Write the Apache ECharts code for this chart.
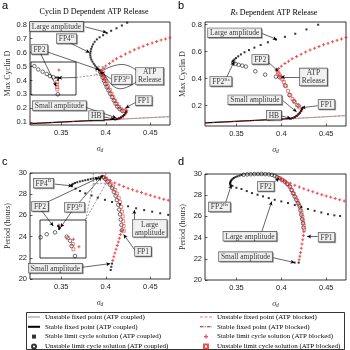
<!DOCTYPE html>
<html>
<head>
<meta charset="utf-8">
<title>ATP release bifurcation diagrams</title>
<script src="https://cdn.jsdelivr.net/npm/echarts@6.0.0/dist/echarts.min.js"></script>
<style>
  html, body { margin: 0; padding: 0; background: #fff; }
  #chart { width: 350px; height: 350px; }
</style>
</head>
<body>
<div id="chart"></div>
<script>
// Bifurcation diagrams: max cyclin D (a, b) and period (c, d) against sigma_d

// ---- ticks ----
const xTicks = [0.35, 0.4, 0.45];
const yTicksA = [0.1, 0.2, 0.3, 0.4, 0.5, 0.6, 0.7, 0.8];
const yTicksB = [0.2, 0.4, 0.6, 0.8];

// ---- panel a: Cyclin D dependent ATP release ----
const aFixLow = [[0.315, 0.09], [0.41, 0.12]];
const aFixHigh = [[0.41, 0.12], [0.472, 0.14]];
const aStableLarge = [[0.424, 0.815], [0.418, 0.795], [0.412, 0.775], [0.406, 0.757], [0.401, 0.74], [0.397, 0.725],
  [0.393, 0.71], [0.39, 0.695], [0.3875, 0.678], [0.3858, 0.66], [0.3845, 0.643], [0.3836, 0.627], [0.383, 0.61],
  [0.3826, 0.595], [0.3826, 0.58], [0.383, 0.565], [0.3838, 0.55], [0.385, 0.535], [0.3865, 0.52], [0.388, 0.507],
  [0.3897, 0.495], [0.391, 0.485], [0.3922, 0.477], [0.393, 0.472]];
const aUnstable = [[0.3935, 0.462], [0.395, 0.442], [0.3965, 0.42], [0.398, 0.398], [0.3995, 0.375], [0.401, 0.352],
  [0.403, 0.328], [0.405, 0.304], [0.407, 0.28], [0.409, 0.256], [0.411, 0.233], [0.413, 0.212], [0.4155, 0.195], [0.4185, 0.182]];
const aStableSmall = [[0.41, 0.12], [0.4125, 0.123], [0.415, 0.128], [0.417, 0.134], [0.419, 0.142], [0.4205, 0.152],
  [0.422, 0.164], [0.423, 0.177]];
const aRedStable = [[0.395, 0.47], [0.397, 0.487], [0.4, 0.503], [0.404, 0.522], [0.408, 0.54], [0.412, 0.556],
  [0.417, 0.573], [0.422, 0.59], [0.427, 0.605], [0.432, 0.62], [0.437, 0.633], [0.442, 0.646], [0.447, 0.658],
  [0.452, 0.67], [0.457, 0.68], [0.462, 0.69], [0.467, 0.698], [0.472, 0.706]];
const aRedUnstable = [[0.3945, 0.468], [0.3952, 0.456], [0.396, 0.446], [0.3968, 0.436], [0.3977, 0.424], [0.3987, 0.411],
  [0.3998, 0.396], [0.401, 0.378], [0.4025, 0.358], [0.4045, 0.332], [0.4065, 0.305], [0.4085, 0.28], [0.4105, 0.255],
  [0.4125, 0.232], [0.4148, 0.21], [0.4175, 0.192], [0.42, 0.18]];
const aRedSmall = [[0.4115, 0.121], [0.414, 0.125], [0.4162, 0.131], [0.418, 0.138], [0.42, 0.147], [0.4215, 0.158],
  [0.4228, 0.17], [0.4235, 0.183], [0.4225, 0.196]];

// inset of panel a (zoom around FP2 / FP3)
const insetACircles = [[0.3815, 0.49], [0.3832, 0.482], [0.3852, 0.4765], [0.387, 0.471], [0.3884, 0.466], [0.3899, 0.463], [0.3919, 0.4217]];
const insetABlack = [[0.3911, 0.4624], [0.392, 0.4624], [0.3924, 0.4612], [0.392, 0.457]];
const insetARedSq = [[0.3916, 0.4515], [0.3914, 0.4455], [0.3916, 0.4394], [0.3917, 0.4333]];
const insetARedPlus = [[0.3924, 0.4806]];

// ---- panel b: Rs dependent ATP release ----
const bFixLow = [[0.315, 0.073], [0.41, 0.104]];
const bFixHigh = [[0.41, 0.104], [0.472, 0.127]];
const bStableLarge = [[0.441, 0.8], [0.428, 0.765], [0.4155, 0.733], [0.404, 0.71], [0.394, 0.69], [0.385, 0.67],
  [0.377, 0.65], [0.37, 0.63], [0.364, 0.612], [0.359, 0.596], [0.355, 0.58], [0.352, 0.566], [0.3495, 0.553],
  [0.3478, 0.543], [0.3465, 0.534], [0.3458, 0.527]];
const bUnstable = [[0.3465, 0.52], [0.349, 0.51], [0.3525, 0.503], [0.3565, 0.497], [0.3605, 0.49], [0.371, 0.455],
  [0.382, 0.43], [0.394, 0.415], [0.398, 0.411], [0.4043, 0.35], [0.409, 0.28], [0.414, 0.235], [0.419, 0.2]];
const bStableSmall = [[0.41, 0.104], [0.4125, 0.109], [0.415, 0.116], [0.417, 0.125], [0.419, 0.136], [0.4205, 0.148],
  [0.422, 0.162], [0.423, 0.176]];
const bRedStable = [[0.395, 0.458], [0.397, 0.475], [0.4, 0.492], [0.404, 0.512], [0.408, 0.53], [0.412, 0.547],
  [0.417, 0.565], [0.422, 0.582], [0.427, 0.598], [0.432, 0.612], [0.437, 0.626], [0.442, 0.639], [0.447, 0.651],
  [0.452, 0.663], [0.457, 0.674], [0.462, 0.685], [0.467, 0.695], [0.472, 0.705]];
const bRedUnstable = [[0.396, 0.448], [0.397, 0.437], [0.3983, 0.424], [0.3997, 0.41], [0.4012, 0.394], [0.4028, 0.376],
  [0.405, 0.345], [0.4075, 0.31], [0.41, 0.278], [0.4125, 0.25], [0.415, 0.226], [0.4175, 0.205], [0.42, 0.188]];
const bRedSmall = [[0.4112, 0.106], [0.4137, 0.112], [0.416, 0.12], [0.418, 0.13], [0.42, 0.142], [0.4215, 0.155],
  [0.4228, 0.169], [0.4235, 0.183]];

// ---- panel c: period, Cyclin D dependent ----
const cStableLarge = [[0.362, 28.75], [0.366, 28.52], [0.371, 28.3], [0.377, 28.08], [0.384, 27.87], [0.391, 27.67],
  [0.399, 27.47], [0.407, 27.27], [0.416, 27.06], [0.425, 26.86], [0.434, 26.67], [0.443, 26.5], [0.452, 26.35],
  [0.461, 26.2], [0.47, 26.05]];
const cStableFold = [[0.3615, 28.82], [0.362, 28.9], [0.3635, 28.98], [0.3655, 29.06], [0.368, 29.13], [0.371, 29.2],
  [0.374, 29.26], [0.377, 29.32], [0.38, 29.37], [0.383, 29.43], [0.386, 29.48], [0.389, 29.53], [0.392, 29.59],
  [0.3945, 29.65], [0.396, 29.69]];
const cUnstable = [[0.397, 29.6], [0.3995, 29.42], [0.402, 29.18], [0.4045, 28.9], [0.407, 28.58], [0.409, 28.22],
  [0.411, 27.85], [0.4125, 27.45], [0.414, 27.0], [0.415, 26.55], [0.416, 26.1], [0.4168, 25.6], [0.4175, 25.1], [0.418, 24.6]];
const cStableSmall = [[0.4055, 20.85], [0.4062, 21.15], [0.407, 21.45]];
const cRedStable = [[0.396, 29.7], [0.4, 29.52], [0.405, 29.3], [0.41, 29.05], [0.415, 28.88], [0.42, 28.72],
  [0.425, 28.57], [0.43, 28.43], [0.435, 28.29], [0.44, 28.15], [0.445, 28.02], [0.45, 27.89], [0.455, 27.77],
  [0.46, 27.65], [0.465, 27.53], [0.47, 27.42]];
const cRedUnstable = [[0.398, 29.62], [0.4005, 29.45], [0.403, 29.25], [0.4055, 29.0], [0.408, 28.72], [0.4105, 28.4],
  [0.4125, 28.05], [0.4145, 27.65], [0.416, 27.25], [0.4172, 26.8], [0.4182, 26.35], [0.419, 25.9], [0.4195, 25.45],
  [0.42, 25.0], [0.4202, 24.55]];
const cRedSmall = [[0.4078, 21.75], [0.409, 22.1], [0.4102, 22.45], [0.4115, 22.8], [0.4128, 23.15], [0.414, 23.5],
  [0.4152, 23.85], [0.4163, 24.2], [0.4173, 24.55]];

// inset of panel c
const insetCCircles = [[0.3852, 29.436], [0.3872, 29.5], [0.3899, 29.54], [0.3937, 29.448], [0.3948, 29.364], [0.3953, 29.253], [0.3964, 29.042]];
const insetCBlack = [[0.3909, 29.674], [0.3912, 29.653], [0.3915, 29.63], [0.3912, 29.61]];
const insetCRedSq = [[0.3941, 29.42], [0.3957, 29.295], [0.3959, 29.183]];
const insetCRedPlus = [[0.3912, 29.695], [0.3959, 29.394], [0.3977, 29.238]];

// ---- panel d: period, Rs dependent ----
const dStableLarge = [[0.3455, 28.88], [0.35, 28.7], [0.3556, 28.58], [0.3615, 28.39], [0.3674, 28.2], [0.3735, 28.05],
  [0.3796, 27.89], [0.386, 27.73], [0.3926, 27.57], [0.4, 27.41], [0.4074, 27.26], [0.415, 27.07], [0.4222, 26.88],
  [0.4296, 26.7], [0.437, 26.53], [0.4445, 26.37], [0.4519, 26.21], [0.459, 26.1], [0.4655, 26.04], [0.4722, 25.99]];
const dStableFold = [[0.3435, 28.95], [0.343, 29.05], [0.343, 29.15], [0.3433, 29.25], [0.3438, 29.35], [0.3447, 29.45],
  [0.3458, 29.55], [0.3472, 29.63], [0.349, 29.71], [0.351, 29.78], [0.3533, 29.84], [0.3556, 29.9]];
const dUnstableTop = [[0.358, 29.93], [0.362, 29.96], [0.3659, 29.98], [0.37, 29.99], [0.374, 30.0], [0.378, 30.0],
  [0.382, 29.99], [0.386, 29.97], [0.3895, 29.92], [0.3925, 29.83], [0.395, 29.72]];
const dUnstable = [[0.397, 29.62], [0.4005, 29.45], [0.4037, 29.3], [0.4065, 29.07], [0.4093, 28.83], [0.4112, 28.5],
  [0.413, 28.2], [0.4148, 27.88], [0.4167, 27.57], [0.4185, 27.25], [0.4204, 26.94], [0.4213, 26.55], [0.4222, 26.15],
  [0.4232, 25.75], [0.4241, 25.36], [0.4247, 24.95]];
const dStableSmall = [[0.4148, 21.64], [0.4193, 21.64]];
const dRedStable = [[0.397, 29.65], [0.4, 29.5], [0.405, 29.3], [0.41, 29.12], [0.415, 28.95], [0.42, 28.78],
  [0.425, 28.62], [0.43, 28.47], [0.435, 28.32], [0.44, 28.18], [0.445, 28.05], [0.45, 27.92], [0.455, 27.8],
  [0.46, 27.68], [0.465, 27.57], [0.47, 27.46]];
const dRedUnstable = [[0.3985, 29.6], [0.4015, 29.42], [0.4045, 29.22], [0.4075, 29.0], [0.41, 28.75], [0.412, 28.45],
  [0.414, 28.12], [0.416, 27.8], [0.418, 27.45], [0.4198, 27.12], [0.4213, 26.75], [0.4225, 26.35], [0.4235, 25.95],
  [0.4243, 25.55], [0.425, 25.15], [0.4255, 24.75]];
const dRedSmall = [[0.4198, 21.9], [0.4206, 22.25], [0.4214, 22.6], [0.4222, 23.0], [0.423, 23.4], [0.4238, 23.8],
  [0.4245, 24.2], [0.425, 24.55]];

// ---- annotations: [x, y, text] boxes and [[from], [to]] arrows ----
const aNotes = [[0.3447, 0.788, 'Large amplitude'], [0.356, 0.70, '{t|FP4}{p|D}'], [0.3256, 0.624, 'FP2'],
  [0.4178, 0.407, '{t|FP3}{p|D}'], [0.4492, 0.432, 'ATP\nRelease'], [0.4425, 0.255, 'FP1'],
  [0.348, 0.219, 'Small amplitude'], [0.3893, 0.148, 'HB']];
const aArrows = [[[0.377, 0.785], [0.401, 0.745]], [[0.357, 0.678], [0.3818, 0.6]], [[0.333, 0.608], [0.3925, 0.477]],
  [[0.326, 0.605], [0.3444, 0.358]], [[0.406, 0.41], [0.3935, 0.463]], [[0.3667, 0.421], [0.3465, 0.419]],
  [[0.434, 0.245], [0.4222, 0.2025]], [[0.377, 0.208], [0.4118, 0.131]], [[0.3965, 0.14], [0.4098, 0.121]]];
const aDashBox = [[0.3893, 0.44], [0.3987, 0.44], [0.3987, 0.498], [0.3893, 0.498], [0.3893, 0.44]];
const aDashLink = [[0.3667, 0.421], [0.3893, 0.44]];
const aBraceTop = [[0.397, 0.472], [0.418, 0.515], [0.4365, 0.462]];
const aBraceLow = [[0.397, 0.462], [0.416, 0.34], [0.4365, 0.4]];

const bNotes = [[0.348, 0.74, 'Large amplitude'], [0.3765, 0.544, 'FP2'], [0.3327, 0.381, '{t|FP2}{p|Rs}'],
  [0.4357, 0.413, 'ATP\nRelease'], [0.3706, 0.2437, 'Small amplitude'], [0.4503, 0.2097, 'FP1'], [0.3917, 0.1304, 'HB']];
const bArrows = [[[0.3785, 0.735], [0.395, 0.69]], [[0.385, 0.525], [0.3967, 0.455]], [[0.339, 0.41], [0.3473, 0.525]],
  [[0.422, 0.413], [0.3995, 0.412]], [[0.402, 0.236], [0.417, 0.155]], [[0.4405, 0.2], [0.4225, 0.185]],
  [[0.3995, 0.125], [0.4105, 0.107]]];

const cNotes = [[0.3301, 29.04, '{t|FP4}{p|D}'], [0.3262, 26.85, 'FP2'], [0.365, 26.77, '{t|FP3}{p|D}'],
  [0.4493, 24.79, 'Large\namplitude'], [0.4417, 22.6, 'FP1'], [0.3436, 21.02, 'Small amplitude']];
const cArrows = [[[0.343, 28.95], [0.3625, 28.78]], [[0.333, 27.2], [0.3922, 29.55]], [[0.328, 26.45], [0.3411, 25.0]],
  [[0.37, 27.2], [0.395, 29.6]], [[0.362, 26.4], [0.3494, 24.88]], [[0.432, 25.6], [0.432, 26.5]],
  [[0.4325, 22.75], [0.42, 24.2]], [[0.373, 21.1], [0.405, 21.45]]];
const cDashBox = [[0.386, 30], [0.386, 29.0], [0.4, 29.0], [0.4, 30]];
const cDashLinkL = [[0.386, 29.0], [0.3773, 25.59]];
const cDashLinkR = [[0.4, 29.0], [0.3773, 25.59]];

const dNotes = [[0.3827, 28.83, 'FP2'], [0.3312, 26.89, '{t|FP2}{p|Rs}'], [0.365, 24.13, 'Large amplitude'],
  [0.4503, 24.05, 'FP1'], [0.3602, 22.2, 'Small amplitude']];
const dArrows = [[[0.39, 29.1], [0.3975, 29.6]], [[0.338, 27.3], [0.3444, 28.99]], [[0.378, 24.5], [0.3893, 27.41]],
  [[0.4405, 24.1], [0.4287, 24.1]], [[0.391, 22.1], [0.4148, 21.64]]];

// ---- names and styles ----
const N = {
  ufpC: 'Unstable fixed point (ATP coupled)',
  sfpC: 'Stable fixed point (ATP coupled)',
  slcC: 'Stable limit cycle solution (ATP coupled)',
  ulcC: 'Unstable limit cycle solution (ATP coupled)',
  ufpB: 'Unstable fixed point (ATP blocked)',
  sfpB: 'Stable fixed point (ATP blocked)',
  slcB: 'Stable limit cycle solution (ATP blocked)',
  ulcB: 'Unstable limit cycle solution (ATP blocked)'
};
const RED = '#e3262b';
const SERIF = 'Liberation Serif';
const SANS = 'Liberation Sans';
const PLUS = 'path://M1,0H2V1H3V2H2V3H1V2H0V1H1Z';
const SQUARE = 'path://M0,0H1V1H0Z';
// legend line glyphs (24 x 2 boxes so they scale to a thin stroke)
const ICON_LINE = 'path://M0,0H24V2H0Z';
const ICON_THICK = 'path://M0,0H24V4H0Z';
const ICON_DASH = 'path://M0,0H5V2H0ZM8,0H13V2H8ZM16,0H21V2H16Z';
const ICON_DASHDOT = 'path://M0,0H7V2H0ZM9.5,0H11.5V2H9.5ZM14,0H21V2H14ZM23,0H24V2H23Z';
const RICH = {
  t: { fontSize: 7.5, fontFamily: SERIF, color: '#000' },
  p: { fontSize: 5, fontFamily: SERIF, color: '#000', padding: [0, 0, 5, 0] }
};

function fmt(v) { return String(+v.toFixed(2)); }

function xAx(gi) {
  return {
    type: 'value', gridIndex: gi, min: 0.315, max: 0.472,
    name: '{s|σ}{d|d}', nameLocation: 'middle', nameGap: 19,
    nameTextStyle: { rich: { s: { fontFamily: SERIF, fontStyle: 'italic', fontSize: 8, color: '#333' },
      d: { fontFamily: SERIF, fontStyle: 'italic', fontSize: 5.5, color: '#333', padding: [4, 0, 0, 0] } } },
    axisLine: { show: false },
    axisTick: { inside: true, length: 2.5, customValues: xTicks, lineStyle: { color: '#000', width: 0.6 } },
    axisLabel: { customValues: xTicks, formatter: fmt, fontFamily: SANS, fontSize: 7.5, color: '#222', margin: 4 },
    splitLine: { show: false }
  };
}

function yAx(gi, min, max, ticks, name) {
  const ax = {
    type: 'value', gridIndex: gi, min: min, max: max,
    name: name, nameLocation: 'middle', nameGap: 18,
    nameTextStyle: { fontFamily: SERIF, fontSize: 8, color: '#333' },
    axisLine: { show: false },
    axisTick: { inside: true, length: 2.5, lineStyle: { color: '#000', width: 0.6 } },
    axisLabel: { fontFamily: SANS, fontSize: 7.5, color: '#222', margin: 3 },
    splitLine: { show: false }
  };
  if (ticks) {
    ax.axisTick.customValues = ticks;
    ax.axisLabel.customValues = ticks;
    ax.axisLabel.formatter = fmt;
  } else {
    ax.interval = 2;
  }
  return ax;
}

function hiddenAx(gi, min, max) {
  return { type: 'value', gridIndex: gi, min: min, max: max, show: false, splitLine: { show: false } };
}

function line(name, data, gi, style) {
  return { type: 'line', name: name, xAxisIndex: gi, yAxisIndex: gi, data: data, symbol: 'none',
    itemStyle: { color: style.color }, lineStyle: style, silent: true, z: 2 };
}

function fixLines(gi, low, high) {
  return [
    line(N.sfpC, low, gi, { color: '#000', width: 1.3 }),
    line(N.ufpC, high, gi, { color: '#8c8c8c', width: 0.8 }),
    line(N.sfpB, low, gi, { color: '#b01818', width: 0.9, type: [3, 1.5, 1, 1.5] }),
    line(N.ufpB, high, gi, { color: '#e07a7a', width: 0.9, type: [2, 2] })
  ];
}

function pts(kind, data, gi) {
  const s = { type: 'scatter', xAxisIndex: gi, yAxisIndex: gi, data: data, silent: true, z: 3 };
  if (kind === 'slcC') {
    Object.assign(s, { name: N.slcC, symbol: 'rect', symbolSize: 2, itemStyle: { color: '#000' }, z: 4 });
  } else if (kind === 'ulcC') {
    Object.assign(s, { name: N.ulcC, symbol: 'circle', symbolSize: 3.6,
      itemStyle: { color: 'rgba(0,0,0,0)', borderColor: '#000', borderWidth: 0.7 } });
  } else if (kind === 'slcB') {
    Object.assign(s, { name: N.slcB, symbol: PLUS, symbolSize: 3, itemStyle: { color: RED } });
  } else {
    Object.assign(s, { name: N.ulcB, symbol: 'rect', symbolSize: 3,
      itemStyle: { color: 'rgba(0,0,0,0)', borderColor: RED, borderWidth: 0.7 } });
  }
  return s;
}

function notes(gi, labels, arrows) {
  return {
    type: 'scatter', xAxisIndex: gi, yAxisIndex: gi, silent: true, z: 10,
    symbolSize: 1, itemStyle: { color: 'rgba(0,0,0,0)' },
    data: labels.map(l => ({ value: [l[0], l[1]], label: { formatter: l[2] } })),
    label: { show: true, position: 'inside', color: '#000', fontFamily: SERIF, fontSize: 7.5, lineHeight: 8,
      backgroundColor: '#fff', borderColor: '#222', borderWidth: 0.6, padding: [1, 2, 0, 2], rich: RICH,
      shadowColor: 'rgba(0,0,0,0.35)', shadowOffsetX: 1, shadowOffsetY: 1 },
    markLine: {
      silent: true, animation: false, symbol: ['none', 'arrow'], symbolSize: [3, 4],
      lineStyle: { color: '#000', width: 0.6, type: 'solid' }, label: { show: false },
      data: arrows.map(a => [{ coord: a[0] }, { coord: a[1] }])
    }
  };
}

function guide(data, gi, dashed, smooth) {
  return { type: 'line', xAxisIndex: gi, yAxisIndex: gi, data: data, symbol: 'none', silent: true, z: 9,
    smooth: !!smooth, lineStyle: { color: dashed ? '#555' : '#000', width: 0.6, type: dashed ? [2, 1.5] : 'solid' } };
}

const grids = [
  { left: 30, top: 22, width: 140, height: 103 },
  { left: 205, top: 22, width: 141, height: 104 },
  { left: 30, top: 173, width: 140, height: 106 },
  { left: 205, top: 174, width: 141, height: 106 },
  { left: 31, top: 62, width: 45, height: 33 },
  { left: 40, top: 220, width: 46, height: 38 }
].map(g => Object.assign(g, { show: true, borderColor: '#000', borderWidth: 0.8, backgroundColor: '#fff' }));

const series = [].concat(
  // panel a
  fixLines(0, aFixLow, aFixHigh),
  pts('ulcC', aUnstable, 0), pts('ulcB', aRedUnstable, 0), pts('slcB', aRedStable, 0), pts('slcB', aRedSmall, 0),
  pts('slcC', aStableLarge, 0), pts('slcC', aStableSmall, 0),
  guide(aDashBox, 0, true), guide(aDashLink, 0, true),
  guide(aBraceTop, 0, false, true), guide(aBraceLow, 0, false, true),
  notes(0, aNotes, aArrows),
  // panel b
  fixLines(1, bFixLow, bFixHigh),
  pts('ulcC', bUnstable, 1), pts('ulcB', bRedUnstable, 1), pts('slcB', bRedStable, 1), pts('slcB', bRedSmall, 1),
  pts('slcC', bStableLarge, 1), pts('slcC', bStableSmall, 1),
  notes(1, bNotes, bArrows),
  // panel c
  pts('ulcC', cUnstable, 2), pts('ulcB', cRedUnstable, 2), pts('slcB', cRedStable, 2), pts('slcB', cRedSmall, 2),
  pts('slcC', cStableLarge, 2), pts('slcC', cStableFold, 2), pts('slcC', cStableSmall, 2),
  guide(cDashBox, 2, true), guide(cDashLinkL, 2, true), guide(cDashLinkR, 2, true),
  notes(2, cNotes, cArrows),
  // panel d
  pts('ulcC', dUnstableTop, 3), pts('ulcC', dUnstable, 3), pts('ulcB', dRedUnstable, 3), pts('slcB', dRedStable, 3),
  pts('slcB', dRedSmall, 3), pts('slcC', dStableLarge, 3), pts('slcC', dStableFold, 3), pts('slcC', dStableSmall, 3),
  notes(3, dNotes, dArrows),
  // insets
  pts('ulcC', insetACircles, 4), pts('slcC', insetABlack, 4), pts('ulcB', insetARedSq, 4), pts('slcB', insetARedPlus, 4),
  pts('ulcC', insetCCircles, 5), pts('slcC', insetCBlack, 5), pts('ulcB', insetCRedSq, 5), pts('slcB', insetCRedPlus, 5)
);

const legendText = { fontFamily: SERIF, fontSize: 7, color: '#000', lineHeight: 7 };

function legendBox(left, itemWidth, items) {
  return { left: left, top: 313.5, height: 40, padding: 0, orient: 'vertical', itemWidth: itemWidth, itemHeight: 4,
    itemGap: 2.8, selectedMode: false, textStyle: legendText, data: items };
}

const option = {
  animation: false,
  backgroundColor: '#fff',
  grid: grids,
  xAxis: [xAx(0), xAx(1), xAx(2), xAx(3), hiddenAx(4, 0.38, 0.4), hiddenAx(5, 0.385, 0.4)],
  yAxis: [
    yAx(0, 0.08, 0.82, yTicksA, 'Max Cyclin D'),
    yAx(1, 0.05, 0.82, yTicksB, 'Max Cyclin D'),
    yAx(2, 20, 30, null, 'Period (hours)'),
    yAx(3, 20, 30, null, 'Period (hours)'),
    hiddenAx(4, 0.42, 0.5),
    hiddenAx(5, 29.0, 29.8)
  ],
  legend: [
    legendBox(28, 12, [{ name: N.ufpC, icon: ICON_LINE }, { name: N.sfpC, icon: ICON_THICK },
      { name: N.slcC, icon: SQUARE }, { name: N.ulcC, icon: 'circle' }]),
    legendBox(200, 12, [{ name: N.ufpB, icon: ICON_DASH }, { name: N.sfpB, icon: ICON_DASHDOT },
      { name: N.slcB, icon: PLUS }, { name: N.ulcB, icon: SQUARE }])
  ],
  graphic: [
    { type: 'rect', silent: true, shape: { x: 26.5, y: 312.5, width: 318, height: 37 },
      style: { fill: 'none', stroke: '#000', lineWidth: 0.8 } },
    { type: 'text', silent: true, x: 2, y: 0, style: { text: 'a', font: '11px Liberation Sans', fill: '#000' } },
    { type: 'text', silent: true, x: 178, y: 0, style: { text: 'b', font: '11px Liberation Sans', fill: '#000' } },
    { type: 'text', silent: true, x: 2, y: 156, style: { text: 'c', font: '11px Liberation Sans', fill: '#000' } },
    { type: 'text', silent: true, x: 178, y: 156, style: { text: 'd', font: '11px Liberation Sans', fill: '#000' } },
    { type: 'text', silent: true, x: 94, y: 8, style: { text: 'Cyclin D Dependent ATP Release', align: 'center',
      font: '8px Liberation Serif', fill: '#000' } },
    { type: 'text', silent: true, x: 274, y: 8, style: { text: '{i|R}{s|s} Dependent ATP Release', align: 'center',
      font: '8px Liberation Serif', fill: '#000',
      rich: { i: { fontStyle: 'italic', fontFamily: SERIF, fontSize: 8 },
        s: { fontStyle: 'italic', fontFamily: SERIF, fontSize: 5.5, padding: [3, 0, 0, 0] } } } }
  ],
  series: series
};

const chart = echarts.init(document.getElementById('chart'), null, { renderer: 'canvas' });
chart.setOption(option);
</script>
</body>
</html>
